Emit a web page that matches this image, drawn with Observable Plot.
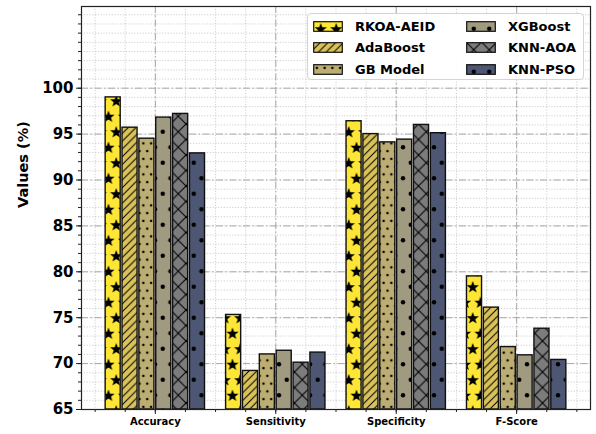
<!DOCTYPE html>
<html>
<head>
<meta charset="utf-8">
<script src="https://cdn.jsdelivr.net/npm/d3@7"></script>
<script src="https://cdn.jsdelivr.net/npm/@observablehq/plot@0.6"></script>
<style>
  body { margin: 0; background: #fff; }
  #wrap { position: relative; width: 596px; height: 434px; font-family: "DejaVu Sans", sans-serif; }
  #legend {
    position: absolute; left: 307px; top: 13px; width: 277px; height: 67px;
    border: 1px solid #d4d4d4; border-radius: 4px; background: rgba(255,255,255,0.9);
    box-sizing: border-box;
  }
  .entry { position: absolute; display: flex; align-items: center; height: 20px; }
  .entry svg { display: block; margin-right: 12px; }
  .entry span { font-size: 13px; font-weight: bold; color: #000; white-space: nowrap; }
</style>
</head>
<body>
<div id="wrap"><div id="legend"></div></div>
<script>
// Metrics and models
const categories = ["Accuracy", "Sensitivity", "Specificity", "F-Score"];
const models = ["RKOA-AEID", "AdaBoost", "GB Model", "XGBoost", "KNN-AOA", "KNN-PSO"];

// Scores (%) per metric, in the order of `categories`
const rkoaAeid = [99.0, 75.3, 96.4, 79.5];
const adaBoost = [95.7, 69.2, 95.0, 76.1];
const gbModel  = [94.5, 71.0, 94.1, 71.8];
const xgBoost  = [96.8, 71.4, 94.4, 70.9];
const knnAoa   = [97.2, 70.1, 96.0, 73.8];
const knnPso   = [92.9, 71.2, 95.1, 70.4];
const series = [rkoaAeid, adaBoost, gbModel, xgBoost, knnAoa, knnPso];

// Axis ticks
const yTicks = [65, 70, 75, 80, 85, 90, 95, 100];
const yMinor = d3.range(65, 109, 1);
const xMinor = d3.range(-0.5, 3.6, 0.25);

// Fill colours (cividis-like ramp) and hatch styles
const colors = ["#fde636", "#d9c25a", "#bcae72", "#a09a80", "#7c7c7c", "#4d5672"];
const hatches = ["stars", "diag", "smalldots", "bigdots", "cross", "bigdots"];

const pitch = 0.14, barW = 0.125, base = 65;

const rows = [];
series.forEach((vals, k) => vals.forEach((v, i) => {
  const c = i + (k - 2.5) * pitch;
  rows.push({model: k, x1: c - barW / 2, x2: c + barW / 2, value: v});
}));

function starPath(cx, cy, R, r) {
  const pts = [];
  for (let j = 0; j < 10; j++) {
    const a = -Math.PI / 2 + j * Math.PI / 5;
    const rad = j % 2 ? r : R;
    pts.push([cx + rad * Math.cos(a), cy + rad * Math.sin(a)]);
  }
  return "M" + pts.map(p => p.join(",")).join("L") + "Z";
}

function buildDefs(svgNode) {
  const defs = d3.select(svgNode).insert("defs", ":first-child");
  function pattern(id, w, h, bg) {
    const p = defs.append("pattern").attr("id", id)
      .attr("patternUnits", "userSpaceOnUse").attr("width", w).attr("height", h);
    p.append("rect").attr("width", w).attr("height", h).attr("fill", bg);
    return p;
  }
  hatches.forEach((h, k) => {
    const id = "hatch-" + k, bg = colors[k];
    if (h === "stars") {
      const W = 15.5, H = 31, p = pattern(id, W, H, bg);
      [[W / 2, H / 4], [0, 3 * H / 4], [W, 3 * H / 4]].forEach(([x, y]) =>
        p.append("path").attr("d", starPath(x, y + 0.6, 6.4, 2.7)).attr("fill", "#000"));
    } else if (h === "diag") {
      const s = 7.75, p = pattern(id, s, s, bg);
      p.append("path").attr("d", `M0,${s}L${s},0M-2,2L2,-2M${s - 2},${s + 2}L${s + 2},${s - 2}`)
        .attr("stroke", "#000").attr("stroke-width", 1).attr("fill", "none");
    } else if (h === "cross") {
      const s = 15.5, p = pattern(id, s, s, bg);
      p.append("path").attr("d", `M0,0L${s},${s}M0,${s}L${s},0`)
        .attr("stroke", "#000").attr("stroke-width", 1.1).attr("fill", "none");
    } else {
      const small = h === "smalldots";
      const W = small ? 7.75 : 15.5, H = 2 * W, r = small ? 1.3 : 2.2;
      const p = pattern(id, W, H, bg);
      [[W / 2, H / 4], [0, 3 * H / 4], [W, 3 * H / 4]].forEach(([x, y]) =>
        p.append("circle").attr("cx", x).attr("cy", y).attr("r", r).attr("fill", "#000"));
    }
  });
}

const chart = Plot.plot({
  width: 596,
  height: 434,
  marginLeft: 81,
  marginRight: 6,
  marginTop: 6,
  marginBottom: 25,
  style: {fontFamily: "DejaVu Sans, sans-serif", background: "#fff", color: "#000"},
  x: {domain: [-0.613, 3.613]},
  y: {domain: [65, 108.9]},
  marks: [
    Plot.gridY({ticks: yMinor, stroke: "#c4c4c4", strokeOpacity: 1, strokeWidth: 0.8, strokeDasharray: "1.2,1.6"}),
    Plot.gridX({ticks: xMinor, stroke: "#c4c4c4", strokeOpacity: 1, strokeWidth: 0.8, strokeDasharray: "1.2,1.6"}),
    Plot.gridY({ticks: yTicks, stroke: "#a8a8a8", strokeOpacity: 1, strokeWidth: 1, strokeDasharray: "7,2.5,1.5,2.5"}),
    Plot.gridX({ticks: [0, 1, 2, 3], stroke: "#a8a8a8", strokeOpacity: 1, strokeWidth: 1, strokeDasharray: "7,2.5,1.5,2.5"}),
    ...models.map((m, k) => Plot.rect(rows.filter(d => d.model === k), {
      x1: "x1", x2: "x2", y1: () => base, y2: "value",
      fill: `url(#hatch-${k})`, stroke: "#111", strokeWidth: 1.4
    })),
    Plot.axisY({ticks: yMinor, tickSize: 3, tickFormat: () => "", label: null, stroke: "#222"}),
    Plot.axisY({ticks: yTicks, tickSize: 5, tickPadding: 3, fontSize: 15, fontWeight: "bold", label: null, stroke: "#222"}),
    Plot.axisX({ticks: xMinor, tickSize: 3, tickFormat: () => "", label: null, stroke: "#222"}),
    Plot.axisX({ticks: [0, 1, 2, 3], tickSize: 5, tickPadding: 3, tickFormat: i => categories[i], fontSize: 10, fontWeight: "bold", label: null, stroke: "#222"}),
    Plot.text(["Values (%)"], {frameAnchor: "left", rotate: -90, dx: -58, fontSize: 14.5, fontWeight: "bold"}),
    Plot.frame({stroke: "#222", strokeWidth: 1.2})
  ]
});

buildDefs(chart);
document.getElementById("wrap").prepend(chart);

// Legend: two columns of three entries
const legend = document.getElementById("legend");
models.forEach((m, k) => {
  const col = Math.floor(k / 3), row = k % 3;
  const e = document.createElement("div");
  e.className = "entry";
  e.style.left = (col === 0 ? 5 : 158) + "px";
  e.style.top = (2 + row * 21.5) + "px";
  e.innerHTML = `<svg width="30" height="11"><rect x="0.7" y="0.7" width="28.6" height="9.6" fill="url(#hatch-${k})" stroke="#111" stroke-width="1.2"/></svg><span>${m}</span>`;
  legend.appendChild(e);
});
</script>
</body>
</html>
